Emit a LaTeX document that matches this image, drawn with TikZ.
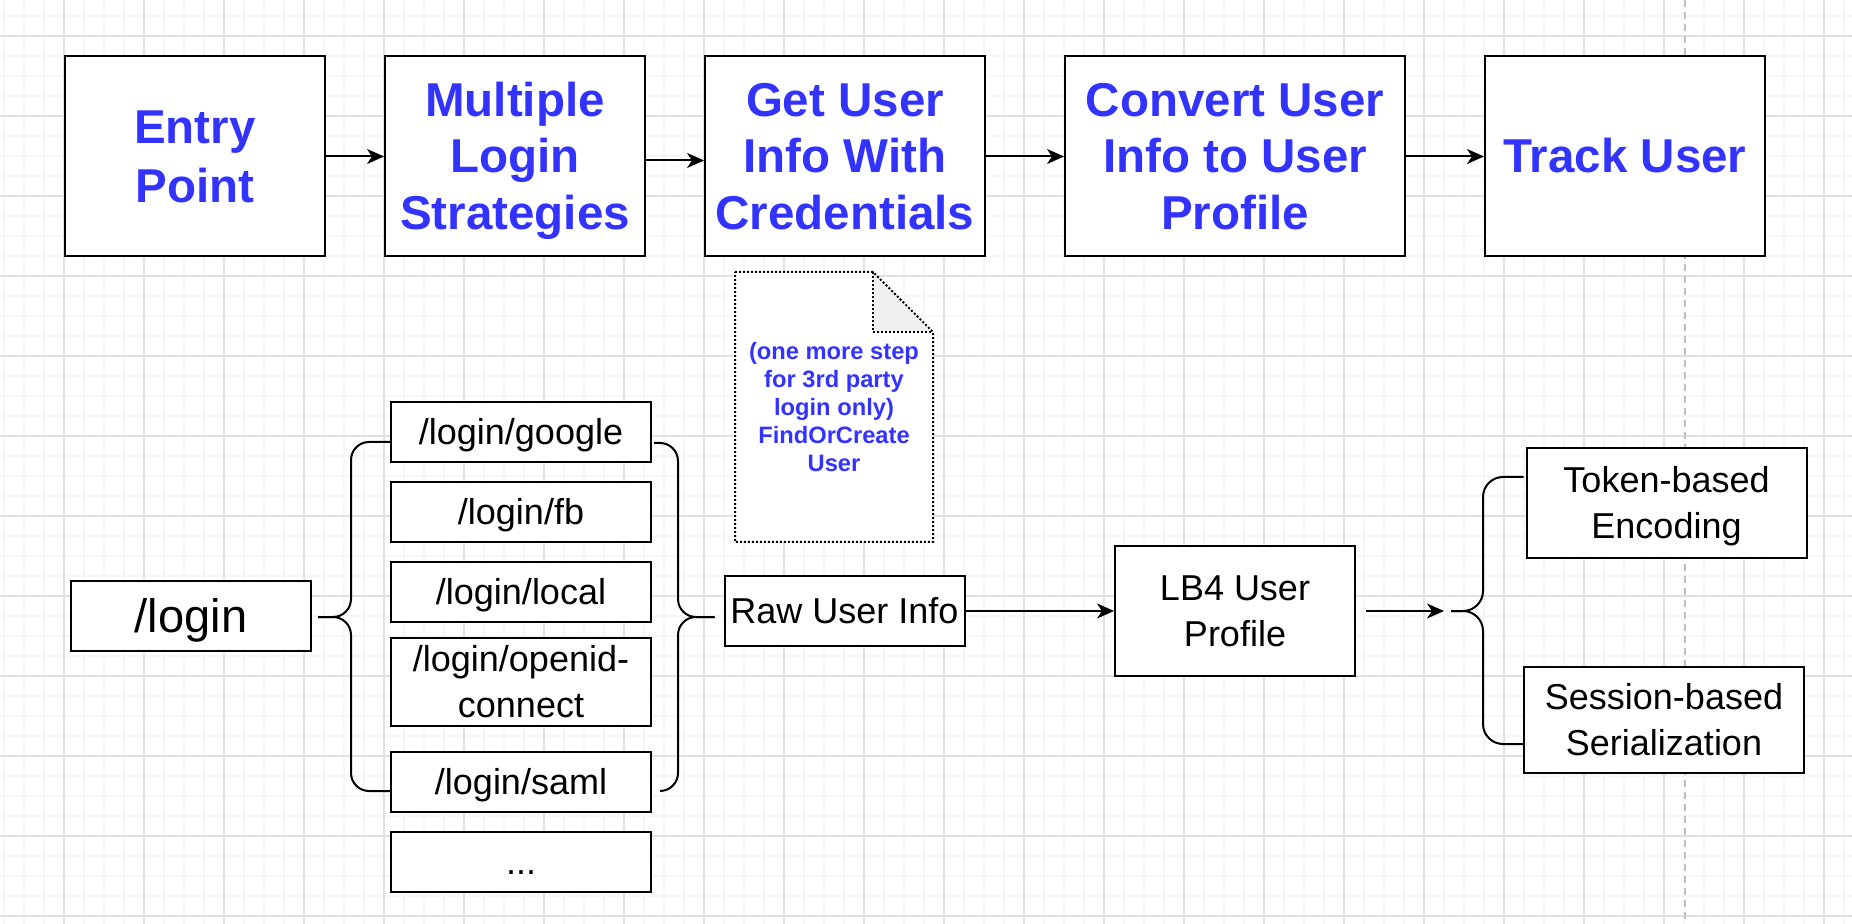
\documentclass[tikz,border=0pt]{standalone}
\usepackage{fontspec}
\setmainfont{Liberation Sans}
\usetikzlibrary{arrows.meta,calc}
\definecolor{bluetxt}{RGB}{51,51,255}
\definecolor{gridmajor}{RGB}{225,225,225}
\definecolor{gridminor}{RGB}{246,246,246}
\definecolor{dashgray}{RGB}{192,192,192}
\definecolor{foldgray}{RGB}{240,240,240}
\newcommand{\dstrut}{\rule[-0.2535em]{0pt}{1.2em}}
\begin{document}
\begin{tikzpicture}[x=0.5pt,y=-0.5pt,
  box/.style={rectangle, draw=black, line width=1pt, fill=white, inner sep=0pt, align=center},
  topbox/.style={box, minimum height=100pt, font=\fontsize{23.75}{28.3}\selectfont\bfseries, text=bluetxt},
  smallbox/.style={box, font=\fontsize{18}{21.4}\selectfont},
  arr/.style={line width=1pt, -{Stealth[length=8.5pt,width=7.5pt,inset=2.5pt]}},
  bracepath/.style={line width=1pt, rounded corners=9pt},
  notedot/.style={line width=1pt, dash pattern=on 1pt off 1pt},
  gridminorline/.style={gridminor, line width=1pt},
  gridmajorline/.style={gridmajor, line width=0.6pt},
]
\useasboundingbox (0,0) rectangle (1852,924);
\fill[white] (0,0) rectangle (1852,924);
% grid
\foreach \i in {0,...,92} \draw[gridminorline] ({4+20*\i},0) -- ({4+20*\i},924);
\foreach \j in {0,...,46} \draw[gridminorline] (0,{-4+20*\j}) -- (1852,{-4+20*\j});
\foreach \i in {0,...,22} \draw[gridmajorline] ({64+80*\i},0) -- ({64+80*\i},924);
\foreach \j in {0,...,11} \draw[gridmajorline] (0,{36+80*\j}) -- (1852,{36+80*\j});
% dashed guide
\draw[dashgray, line width=1pt, dash pattern=on 3.5pt off 2.5pt] (1685,0) -- (1685,924);

% top row
\node[topbox, minimum width=130pt] (entry) at (195,156.5) {\dstrut Entry\\Point\dstrut};
\node[topbox, minimum width=130pt] (multi) at (515,156.5) {\dstrut Multiple\\Login\\Strategies\dstrut};
\node[topbox, minimum width=140pt] (getinfo) at (845,156.5) {\dstrut Get User\\Info With\\Credentials\dstrut};
\node[topbox, minimum width=170pt] (convert) at (1235,156.5) {\dstrut Convert User\\Info to User\\Profile\dstrut};
\node[topbox, minimum width=140pt] (track) at (1625,156.5) {\dstrut Track User\dstrut};

\draw[arr] (entry.east) -- (multi.west);
\draw[arr] ([yshift=-2pt]multi.east) -- ([yshift=-2pt]getinfo.west);
\draw[arr] (getinfo.east) -- (convert.west);
\draw[arr] (convert.east) -- (track.west);

% note
\fill[white] (735,272) -- (873,272) -- (933,332) -- (933,542) -- (735,542) -- cycle;
\fill[foldgray] (873,272) -- (933,332) -- (873,332) -- cycle;
\draw[notedot] (735,272) -- (873,272) -- (933,332) -- (933,542) -- (735,542) -- cycle;
\draw[notedot] (873,272) -- (873,332) -- (933,332);
\node[font=\fontsize{11.85}{14}\selectfont\bfseries, text=bluetxt, align=center, inner sep=0pt] (note) at (834,407) {\dstrut(one more step\\for 3rd party\\login only)\\FindOrCreate\\User\dstrut};

% bottom row
\node[box, minimum width=120pt, minimum height=35pt, font=\fontsize{23.5}{28.2}\selectfont] (login) at (191,616) {\dstrut/login\dstrut};
\node[smallbox, minimum width=130pt, minimum height=30pt] (google) at (521,432) {\dstrut/login/google\dstrut};
\node[smallbox, minimum width=130pt, minimum height=30pt] (fb) at (521,512) {\dstrut/login/fb\dstrut};
\node[smallbox, minimum width=130pt, minimum height=30pt] (local) at (521,592) {\dstrut/login/local\dstrut};
\node[smallbox, minimum width=130pt, minimum height=40pt] (openid) at (521,682) {\dstrut/login/openid-\\connect\dstrut};
\node[smallbox, minimum width=130pt, minimum height=30pt] (saml) at (521,782) {\dstrut/login/saml\dstrut};
\node[smallbox, minimum width=130pt, minimum height=30pt] (dots) at (521,862) {\dstrut...\dstrut};

\node[smallbox, minimum width=120pt, minimum height=35pt] (raw) at (844.5,611) {\dstrut Raw User Info\dstrut};
\node[smallbox, minimum width=120pt, minimum height=65pt] (lb4) at (1235,611) {\dstrut LB4 User\\Profile\dstrut};
\node[smallbox, minimum width=140pt, minimum height=55pt] (token) at (1666.5,503) {\dstrut Token-based\\Encoding\dstrut};
\node[smallbox, minimum width=140pt, minimum height=53pt] (session) at (1664,720) {\dstrut Session-based\\Serialization\dstrut};

% left brace
\coordinate (lbtip) at ($(login.east)+(6,1)$);
\coordinate (lbtop) at ($(google.west)+(0,10)$);
\coordinate (lbbot) at ($(saml.west)+(0,9)$);
\draw[bracepath] (lbtop) -- (351,442) -- (351,617) -- (lbtip);
\draw[bracepath] (lbbot) -- (351,791) -- (351,617) -- (lbtip);

% right brace
\coordinate (rbtip) at ($(raw.west)+(-9,6)$);
\coordinate (rbtop) at ($(google.east)+(2,11)$);
\coordinate (rbbot) at ($(saml.east)+(8,9)$);
\draw[bracepath] (rbtop) -- (678,443) -- (678,617) -- (rbtip);
\draw[bracepath] (rbbot) -- (678,791) -- (678,617) -- (rbtip);

\draw[arr] (raw.east) -- (lb4.west);

% third brace
\coordinate (tbtip) at (1451,611);
\coordinate (tbtop) at ($(token.west)+(-2,-26)$);
\coordinate (tbbot) at ($(session.west)+(0,24)$);
\draw[bracepath, rounded corners=10pt] (tbtop) -- (1483,477) -- (1483,611) -- (tbtip);
\draw[bracepath, rounded corners=10pt] (tbbot) -- (1483,744) -- (1483,611) -- (tbtip);
\draw[arr, shorten >=3.5pt] ([xshift=5pt]lb4.east) -- (tbtip);
\end{tikzpicture}
\end{document}
